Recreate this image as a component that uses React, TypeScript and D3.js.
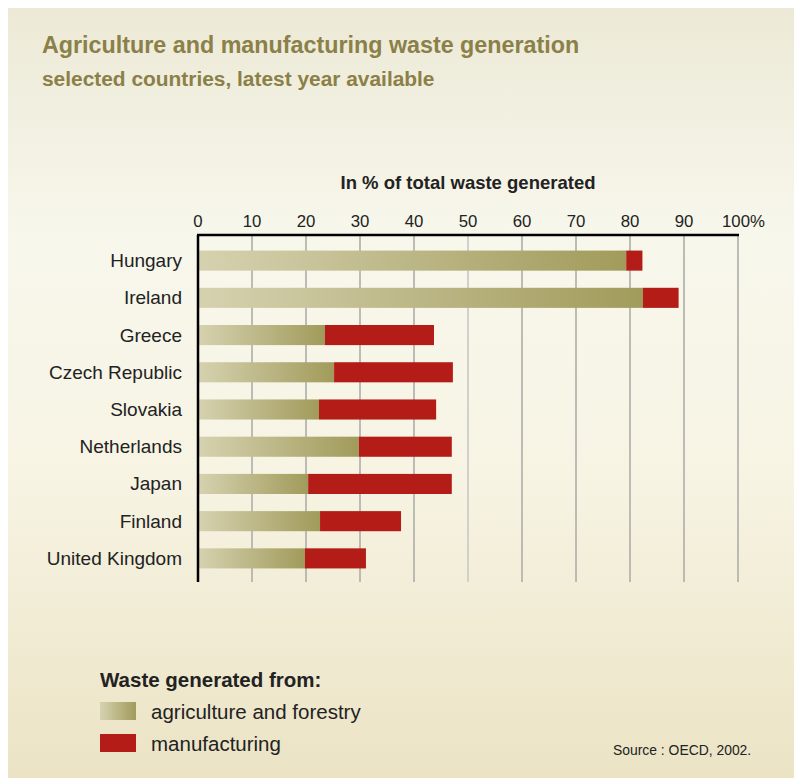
import React from "react";
import * as d3 from "d3";

const countries = ["Hungary", "Ireland", "Greece", "Czech Republic", "Slovakia", "Netherlands", "Japan", "Finland", "United Kingdom"];
const agriculture = [79.3, 82.4, 23.5, 25.2, 22.4, 29.8, 20.4, 22.6, 19.8];
const manufacturing = [3.0, 6.6, 20.2, 22.0, 21.7, 17.2, 26.6, 15.0, 11.3];
const ticks = [0, 10, 20, 30, 40, 50, 60, 70, 80, 90, 100];

const FONT = "'Liberation Sans', Arial, Helvetica, sans-serif";
const NARROW = "'Liberation Sans Narrow', 'Liberation Sans', Arial, sans-serif";

export default function App() {
  const x = d3.scaleLinear().domain([0, 100]).range([198, 738]);
  const y = d3.scaleBand<string>().domain(countries).range([242, 577]).paddingInner(0.46).paddingOuter(0.23);
  const axisTop = 235;
  const axisBottom = 582;
  const red = "#b41c17";

  return (
    <svg width={794} height={770} style={{ display: "block" }}>
      <defs>
        <linearGradient id="bg" x1="0" y1="0" x2="0" y2="1">
          <stop offset="0" stopColor="#ece9d6" />
          <stop offset="0.3" stopColor="#f8f7ec" />
          <stop offset="0.6" stopColor="#f7f4e4" />
          <stop offset="1" stopColor="#ebe3c4" />
        </linearGradient>
        <linearGradient id="agri" x1="0" y1="0" x2="1" y2="0">
          <stop offset="0" stopColor="#d6d2b0" />
          <stop offset="1" stopColor="#a19b5b" />
        </linearGradient>
      </defs>
      <g transform="translate(-8,-8)">
        <rect x={8} y={8} width={794} height={770} fill="url(#bg)" />
        <text x={42} y={53} fontFamily={NARROW} fontWeight="bold" fontSize={23.3} fill="#8a8048">
          Agriculture and manufacturing waste generation
        </text>
        <text x={42} y={86} fontFamily={NARROW} fontWeight="bold" fontSize={20.9} fill="#8a8048">
          selected countries, latest year available
        </text>

        <text x={468} y={189} textAnchor="middle" fontFamily={FONT} fontWeight="bold" fontSize={18.5} fill="#222">
          In % of total waste generated
        </text>

        {ticks.slice(1).map((t) => (
          <line key={"g" + t} x1={x(t)} x2={x(t)} y1={axisTop} y2={axisBottom}
            stroke={t === 50 ? "#d0d0cc" : "#a9a9a6"} strokeWidth={t === 50 ? 2 : 1.5} />
        ))}
        {ticks.map((t) => (
          <text key={"t" + t} x={t === 100 ? x(t) - 16 : x(t)} y={227} textAnchor={t === 100 ? "start" : "middle"}
            fontFamily={FONT} fontSize={16.8} fill="#222">
            {t === 100 ? "100%" : t}
          </text>
        ))}

        {countries.map((c, i) => {
          const yy = y(c)!;
          const h = y.bandwidth();
          const a = agriculture[i];
          const m = manufacturing[i];
          return (
            <g key={c}>
              <rect x={x(0)} y={yy} width={x(a) - x(0)} height={h} fill="url(#agri)" />
              <rect x={x(a)} y={yy} width={x(a + m) - x(a)} height={h} fill={red} />
              <text x={182} y={yy + h / 2 + 6.5} textAnchor="end" fontFamily={FONT} fontSize={19} fill="#222">
                {c}
              </text>
            </g>
          );
        })}

        <line x1={x(0) - 1} x2={x(100) + 1} y1={axisTop} y2={axisTop} stroke="#000" strokeWidth={2.5} />
        <line x1={x(0)} x2={x(0)} y1={axisTop} y2={axisBottom} stroke="#000" strokeWidth={2.5} />

        <text x={100} y={687} fontFamily={FONT} fontWeight="bold" fontSize={20.5} fill="#222">
          Waste generated from:
        </text>
        <rect x={100} y={702} width={36} height={18} fill="url(#agri)" />
        <text x={151} y={719} fontFamily={FONT} fontSize={20.5} fill="#222">agriculture and forestry</text>
        <rect x={100} y={734} width={36} height={18} fill={red} />
        <text x={151} y={751} fontFamily={FONT} fontSize={20.5} fill="#222">manufacturing</text>

        <text x={613} y={755} fontFamily={FONT} fontSize={13.9} fill="#222">Source : OECD, 2002.</text>
      </g>
    </svg>
  );
}
